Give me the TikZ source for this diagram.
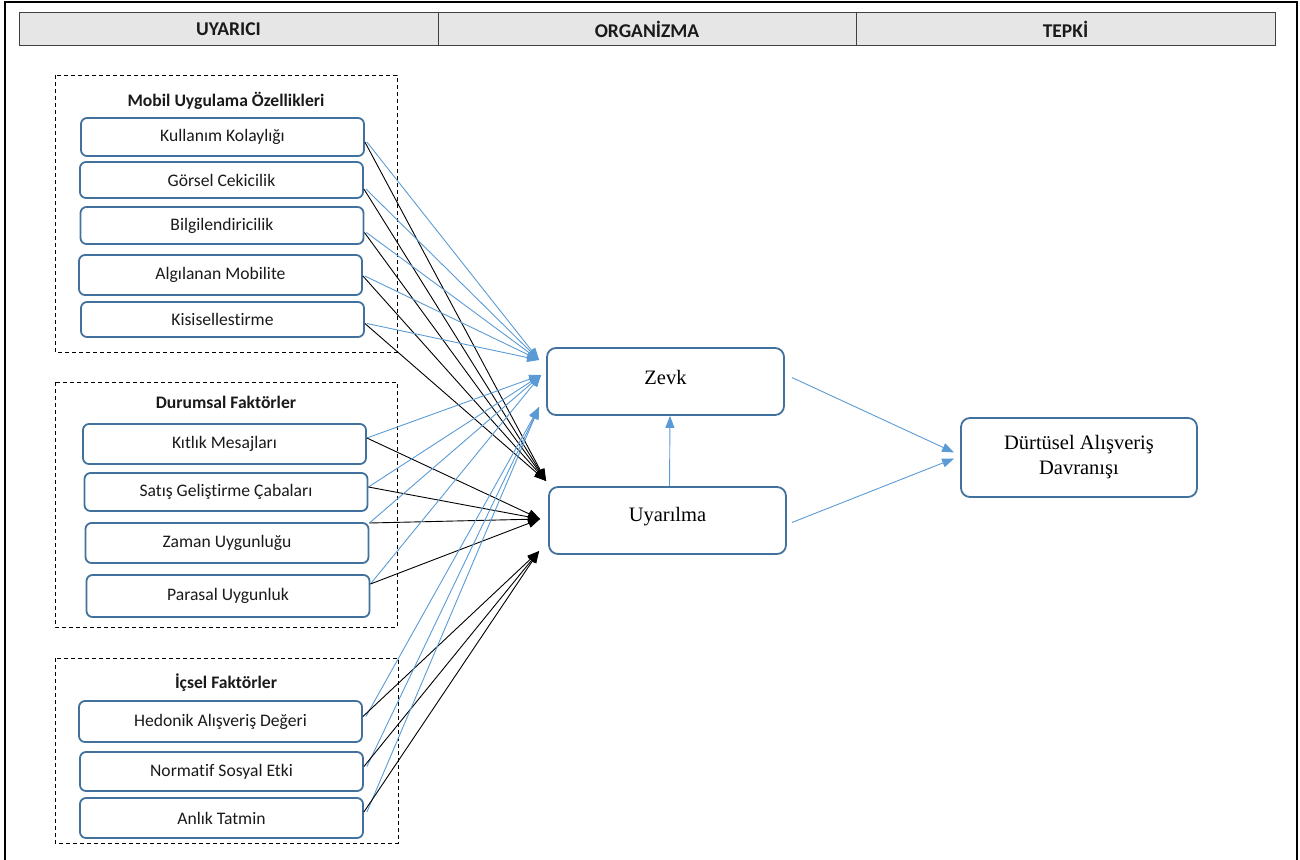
\documentclass[tikz,border=0pt]{standalone}
\usepackage{fontspec}
\setmainfont{Carlito}[Ligatures=NoCommon]
\newfontfamily\tnr{Liberation Serif}
\usetikzlibrary{arrows.meta,calc}
\definecolor{boxblue}{HTML}{41719C}
\definecolor{lineblue}{HTML}{5B9BD5}
\definecolor{hdrgray}{HTML}{E6E6E6}
\definecolor{txt}{HTML}{1A1A1A}
\begin{document}
\begin{tikzpicture}[x=1pt,y=-1pt,
  item/.style={draw=boxblue,line width=1.8pt,rounded corners=6pt,minimum width=283pt,inner sep=0pt,text=txt,font=\fontsize{17.6}{20}\selectfont},
  central/.style={draw=boxblue,line width=1.8pt,rounded corners=9pt,minimum width=237pt,minimum height=67pt,inner sep=0pt,align=center,font=\tnr\fontsize{20.5}{25}\selectfont},
  ctext/.style={inner sep=0pt,align=center,font=\tnr\fontsize{20.5}{25}\selectfont},
  grp/.style={draw=black,line width=0.9pt,dash pattern=on 4pt off 3pt},
  gtitle/.style={text=txt,font=\bfseries\fontsize{17.6}{20}\selectfont},
  hdr/.style={text=txt,font=\bfseries\fontsize{19.5}{22}\selectfont},
  bl/.style={draw=lineblue,line width=0.9pt,-{Triangle[length=12pt,width=9pt]}},
  bk/.style={draw=black,line width=0.9pt,-{Triangle[length=12pt,width=9pt]}}]
\useasboundingbox (0,0) rectangle (1300,859);
% frame
\draw[line width=2pt] (5,870) -- (5,2) -- (1297,2) -- (1297,870);
% header
\draw[fill=hdrgray,draw=black!75,line width=0.9pt] (19,12) rectangle (1275,45);
\draw[draw=black!75,line width=0.9pt] (438,12) -- (438,45) (856,12) -- (856,45);
\node[hdr] (h1) at (228.5,29) {UYARICI};
\node[hdr] (h2) at (647,29) {ORGANİZMA};
\node[hdr] (h3) at (1065.5,29) {TEPKİ};
% groups
\draw[grp] (55,75) rectangle (397,352);
\draw[grp] (55,382) rectangle (397,627);
\draw[grp] (55,658) rectangle (398,843);
\node[gtitle] (g1) at (226,101) {Mobil Uygulama Özellikleri};
\node[gtitle] (g2) at (226,402) {Durumsal Faktörler};
\node[gtitle] (g3) at (226,683) {İçsel Faktörler};
% items
\node[item,minimum height=38pt] (kk) at (222.5,137) {Kullanım Kolaylığı};
\node[item,minimum height=36pt] (gc) at (221.5,180) {Görsel Cekicilik};
\node[item,minimum height=37pt] (bi) at (222,225.5) {Bilgilendiricilik};
\node[item,minimum height=40pt] (am) at (220.5,275) {Algılanan Mobilite};
\node[item,minimum height=35pt] (ks) at (222.5,319.5) {Kisisellestirme};
\node[item,minimum height=40pt] (km) at (224.5,444) {Kıtlık Mesajları};
\node[item,minimum height=38pt] (sg) at (226,492) {Satış Geliştirme Çabaları};
\node[item,minimum height=40pt] (zu) at (227,543) {Zaman Uygunluğu};
\node[item,minimum height=42pt] (pu) at (228,596) {Parasal Uygunluk};
\node[item,minimum height=41pt] (hd) at (220.5,721.5) {Hedonik Alışveriş Değeri};
\node[item,minimum height=39pt] (ns) at (221.5,771.5) {Normatif Sosyal Etki};
\node[item,minimum height=40pt] (at) at (221.5,818) {Anlık Tatmin};
% central
\node[central] (zv) at (665.5,381.5) {};
\node[ctext] (zvt) at (665.5,377) {Zevk};
\node[central] (uy) at (667.5,520.5) {};
\node[ctext] (uyt) at (667.5,517) {Uyarılma};
\node[central,minimum width=236pt,minimum height=79pt] (dad) at (1079,457.5) {Dürtüsel Alışveriş\\Davranışı};
% target points
\coordinate (t1) at ($(zv.west)+(-7,-21.5)$);
\coordinate (t2) at ($(zv.west)+(-5,-6.5)$);
\coordinate (t3) at ($(zv.west)+(-7,25.5)$);
\coordinate (u1) at ($(uy.west)+(-2,-39.5)$);
\coordinate (u2) at ($(uy.west)+(-8,-1.5)$);
\coordinate (u3) at ($(uy.west)+(-9,30.5)$);
% connectors
\foreach \n/\o in {kk/5,gc/9,bi/7,am/1,ks/4}{
  \draw[bl] ($(\n.east)+(2,\o)$) -- (t1);
  \draw[bk] ($(\n.east)+(0,\o)$) -- (u1);
}
\foreach \n/\o in {km/-6,sg/-5,zu/-20,pu/-12}{
  \draw[bl] ($(\n.east)+(0,\o)$) -- (t2);
  \draw[bk] ($(\n.east)+(0,\o)$) -- (u2);
}
\foreach \n/\o in {hd/-5,ns/-5,at/-6}{
  \draw[bl] ($(\n.east)+(3,\o)$) -- (t3);
  \draw[bk] ($(\n.east)+(0,\o)$) -- (u3);
}
\draw[bl] ($(uy.north)+(2,0)$) -- ($(zv.south)+(4.5,0)$);
\draw[bl] ($(zv.east)+(7,-4)$) -- ($(dad.west)+(-6,-5)$);
\draw[bl] ($(uy.east)+(5,2)$) -- ($(dad.west)+(-6,1)$);
\end{tikzpicture}
\end{document}
